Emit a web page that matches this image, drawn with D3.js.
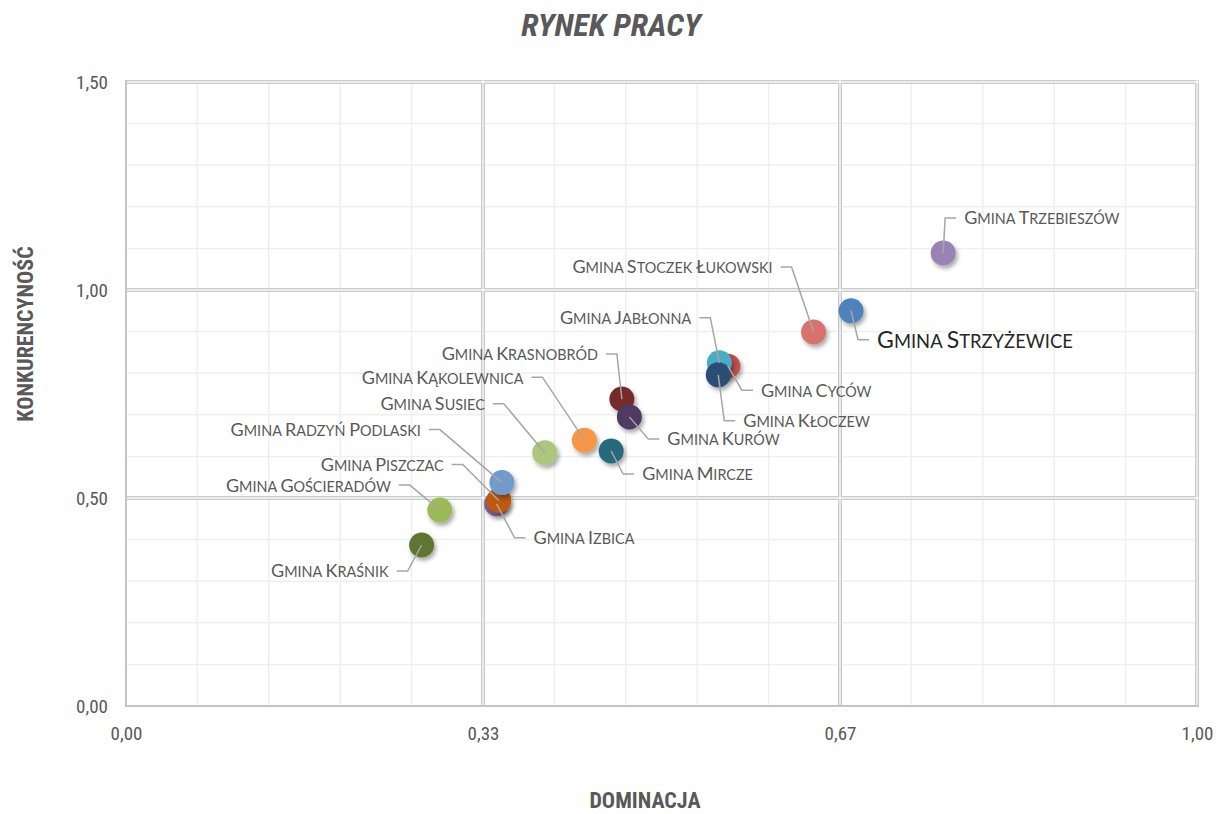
<!DOCTYPE html>
<html><head><meta charset="utf-8">
<script src="https://cdn.jsdelivr.net/npm/d3@7"></script>
<style>
html,body{margin:0;padding:0;background:#fff;}
svg{display:block;}
</style></head>
<body>
<svg id="chart" width="1225" height="814"></svg>
<script>
// ---- data ----
const names = ["Gmina Cyców","Gmina Jabłonna","Gmina Kłoczew","Gmina Trzebieszów","Gmina Stoczek Łukowski","Gmina Strzyżewice",
  "Gmina Krasnobród","Gmina Kurów","Gmina Kąkolewnica","Gmina Mircze","Gmina Susiec",
  "Gmina Izbica","Gmina Piszczac","Gmina Radzyń Podlaski","Gmina Gościeradów","Gmina Kraśnik"];
const dominacja =       [0.562,0.554,0.553,0.763,0.642,0.677,0.463,0.470,0.428,0.453,0.391,0.346,0.348,0.351,0.293,0.276];
const konkurencyjnosc = [0.817,0.825,0.796,1.089,0.899,0.950,0.738,0.695,0.639,0.613,0.609,0.486,0.494,0.537,0.471,0.387];
const colors = ["#c0504d","#4bacc6","#2c4d75","#9983b5","#d9716c","#4f81bd",
  "#772c2a","#4d3b62","#f79646","#276a7c","#acc77c",
  "#8064a2","#c0580a","#729aca","#9bbb59","#5f7530"];
const xTickValues = [0, 1/3, 2/3, 1];
const xTickLabels = ["0,00","0,33","0,67","1,00"];
const yTickValues = [0, 0.5, 1, 1.5];
const yTickLabels = ["0,00","0,50","1,00","1,50"];
const title = "RYNEK PRACY";
const xTitle = "DOMINACJA";
const yTitle = "KONKURENCYNOŚĆ";

// ---- label layout (pixel offsets of leader elbow from marker centre) ----
const labelLayout = [
  {dx:14,dy:24,side:"r"},{dx:-9,dy:-45,side:"l"},{dx:6,dy:46,side:"r"},{dx:2,dy:-35,side:"r"},
  {dx:-22,dy:-65,side:"l"},{dx:7,dy:29,side:"r",big:true},
  {dx:-5,dy:-45,side:"l"},{dx:19,dy:22,side:"r"},{dx:-42,dy:-63,side:"l"},{dx:12,dy:23,side:"r"},{dx:-41,dy:-49,side:"l"},
  {dx:18,dy:34,side:"r"},{dx:-36,dy:-36,side:"l"},{dx:-62,dy:-53,side:"l"},{dx:-30,dy:-25,side:"l"},{dx:-14,dy:26,side:"l"}
];

(function(){
const svg = d3.select("#chart");
const pL = 126, pR = 1197, pT = 82, pB = 706;
const x = d3.scaleLinear().domain([0,1]).range([pL,pR]);
const y = d3.scaleLinear().domain([0,1.5]).range([pB,pT]);

const defs = svg.append("defs");
const f = defs.append("filter").attr("id","sh").attr("x","-50%").attr("y","-50%").attr("width","200%").attr("height","200%");
f.append("feDropShadow").attr("dx",2).attr("dy",3).attr("stdDeviation",2.2).attr("flood-color","#000").attr("flood-opacity",0.35);

// minor grid
const g = svg.append("g");
const xMinor = d3.range(0,16).map(i=>i/15);
const yMinor = d3.range(0,16).map(i=>i/10);
g.append("g").selectAll("line").data(xMinor).join("line")
  .attr("x1",d=>x(d)).attr("x2",d=>x(d)).attr("y1",pT).attr("y2",pB)
  .attr("stroke","#efefef").attr("stroke-width",1.5);
g.append("g").selectAll("line").data(yMinor).join("line")
  .attr("y1",d=>y(d)).attr("y2",d=>y(d)).attr("x1",pL).attr("x2",pR)
  .attr("stroke","#efefef").attr("stroke-width",1.5);

// major (double) grid
const xMajor = [1/3,2/3,1];
const yMajor = [0.5,1,1.5];
[["#cacaca",4],["#f7f7f7",1.4]].forEach(([c,w])=>{
  g.append("g").selectAll("line").data(yMajor).join("line")
    .attr("y1",d=>y(d)).attr("y2",d=>y(d)).attr("x1",pL).attr("x2",pR+2)
    .attr("stroke",c).attr("stroke-width",w);
  g.append("g").selectAll("line").data(xMajor).join("line")
    .attr("x1",d=>x(d)).attr("x2",d=>x(d)).attr("y1",pT-2).attr("y2",pB)
    .attr("stroke",c).attr("stroke-width",w);
});
// axis lines
g.append("line").attr("x1",pL).attr("x2",pL).attr("y1",pT-2).attr("y2",pB+1).attr("stroke","#c4c4c4").attr("stroke-width",2);
g.append("line").attr("x1",pL).attr("x2",pR+2).attr("y1",pB).attr("y2",pB).attr("stroke","#c4c4c4").attr("stroke-width",2);

// axes
const tickFont = "'Liberation Sans Narrow','Arial Narrow','Roboto Condensed',sans-serif";
const xAxis = d3.axisBottom(x).tickValues(xTickValues).tickFormat((d,i)=>xTickLabels[i]).tickSize(0).tickPadding(0);
const xa = svg.append("g").attr("transform",`translate(0,${pB+34})`).call(xAxis);
xa.select(".domain").remove();
xa.selectAll("text").attr("dy",0).attr("y",0).attr("font-family",tickFont).attr("font-size",19).attr("fill","#595959");

const yAxis = d3.axisLeft(y).tickValues(yTickValues).tickFormat((d,i)=>yTickLabels[i]).tickSize(0).tickPadding(0);
const ya = svg.append("g").attr("transform",`translate(${pL-18},0)`).call(yAxis);
ya.select(".domain").remove();
ya.selectAll("text").attr("dy","0.35em").attr("x",0).attr("font-family",tickFont).attr("font-size",19).attr("fill","#595959");

// titles
svg.append("text").attr("x",611).attr("y",36).attr("text-anchor","middle")
  .attr("font-family",tickFont).attr("font-weight","bold").attr("font-style","italic")
  .attr("font-size",32).attr("fill","#595959").text(title);
svg.append("text").attr("x",645).attr("y",808).attr("text-anchor","middle")
  .attr("font-family",tickFont).attr("font-weight","bold")
  .attr("font-size",22).attr("fill","#595959").text(xTitle);
svg.append("text").attr("transform","translate(33,334) rotate(-90)").attr("text-anchor","middle")
  .attr("font-family",tickFont).attr("font-weight","bold")
  .attr("font-size",22).attr("fill","#595959").text(yTitle);

// data records
const pts = names.map((n,i)=>({name:n, dx:dominacja[i], ky:konkurencyjnosc[i], color:colors[i], lay:labelLayout[i]}));

// markers
const mk = svg.append("g");
mk.selectAll("circle").data(pts).join("circle")
  .attr("cx",d=>x(d.dx)).attr("cy",d=>y(d.ky)).attr("r",12.5)
  .attr("fill",d=>d.color).attr("filter","url(#sh)");

// leader lines + labels
const lab = svg.append("g");
pts.forEach(d=>{
  const cx = x(d.dx), cy = y(d.ky);
  const ex = cx + d.lay.dx, ey = cy + d.lay.dy;
  const dir = d.lay.side === "r" ? 1 : -1;
  const hx = ex + dir*11;
  lab.append("polyline").attr("points",`${cx},${cy} ${ex},${ey} ${hx},${ey}`)
    .attr("fill","none").attr("stroke","#a6a6a6").attr("stroke-width",1.5);
  const S = d.lay.big ? 23 : 18;
  const t = lab.append("text")
    .attr("x", hx + dir*8).attr("y", ey + S*0.36)
    .attr("text-anchor", dir>0 ? "start" : "end")
    .attr("font-family","Lato,'Open Sans',sans-serif")
    .attr("fill", d.lay.big ? "#262626" : "#595959");
  const chars = Array.from(d.name);
  let runs = [];
  chars.forEach(ch=>{
    const sz = (ch !== " " && ch !== ch.toLowerCase()) ? "b" : "s";
    if (runs.length && runs[runs.length-1].sz === sz) runs[runs.length-1].txt += ch;
    else runs.push({sz, txt:ch});
  });
  runs.forEach(r=>{
    t.append("tspan").attr("font-size", r.sz==="b" ? S : S*0.8).text(r.txt.toUpperCase());
  });
});
})();
</script>
</body></html>
